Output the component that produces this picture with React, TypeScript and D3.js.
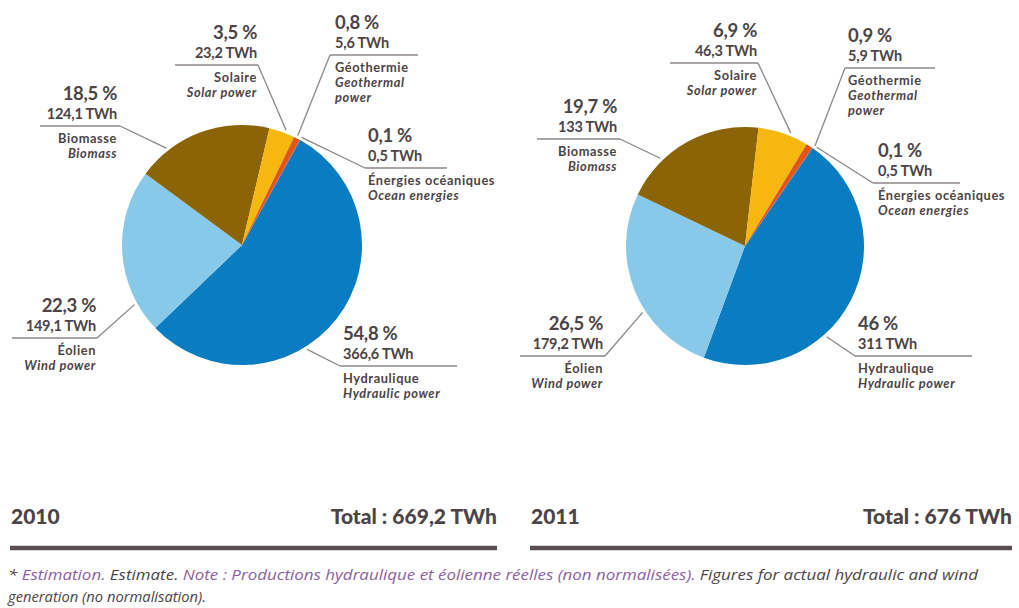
import React from "react";
import * as d3 from "d3";

// ---- Data ----
const categoriesFr = ["Hydraulique", "Éolien", "Biomasse", "Solaire", "Géothermie", "Énergies océaniques"];
const categoriesEn = [["Hydraulic power"], ["Wind power"], ["Biomass"], ["Solar power"], ["Geothermal", "power"], ["Ocean energies"]];
const colors = ["#0a7dc2", "#88c9ea", "#8a6406", "#f6b80e", "#e0561a", "#c8401a"];

const values2010 = [366.6, 149.1, 124.1, 23.2, 5.6, 0.5];
const pctLabels2010 = ["54,8 %", "22,3 %", "18,5 %", "3,5 %", "0,8 %", "0,1 %"];
const twhLabels2010 = ["366,6 TWh", "149,1 TWh", "124,1 TWh", "23,2 TWh", "5,6 TWh", "0,5 TWh"];

const values2011 = [311, 179.2, 133, 46.3, 5.9, 0.5];
const pctLabels2011 = ["46 %", "26,5 %", "19,7 %", "6,9 %", "0,9 %", "0,1 %"];
const twhLabels2011 = ["311 TWh", "179,2 TWh", "133 TWh", "46,3 TWh", "5,9 TWh", "0,5 TWh"];

const years = ["2010", "2011"];
const totals = ["Total : 669,2 TWh", "Total : 676 TWh"];

// ---- Layout (positions only) ----
type LabelPos = { anchor: "start" | "end"; x: number; y: number; x0: number; x1: number; ang: number };
const layout2010 = {
  cx: 242, cy: 245, r: 120, start: 29,
  labels: [
    { anchor: "start", x: 343, y: 340, x0: 340, x1: 457, ang: 148 },
    { anchor: "end", x: 96, y: 312, x0: 12, x1: 97, ang: 241 },
    { anchor: "end", x: 117, y: 100, x0: 40, x1: 120, ang: 322 },
    { anchor: "end", x: 257, y: 39, x0: 175, x1: 258, ang: 21 },
    { anchor: "start", x: 335, y: 29, x0: 330, x1: 418, ang: 27 },
    { anchor: "start", x: 368, y: 142, x0: 365, x1: 447, ang: 29 },
  ] as LabelPos[],
};
const layout2011 = {
  cx: 745, cy: 246, r: 119, start: 34.6,
  labels: [
    { anchor: "start", x: 858, y: 330, x0: 855, x1: 972, ang: 138 },
    { anchor: "end", x: 603, y: 330, x0: 520, x1: 605, ang: 237 },
    { anchor: "end", x: 617, y: 113, x0: 537, x1: 620, ang: 316 },
    { anchor: "end", x: 757, y: 37, x0: 670, x1: 758, ang: 22 },
    { anchor: "start", x: 848, y: 42, x0: 845, x1: 935, ang: 35 },
    { anchor: "start", x: 878, y: 157, x0: 873, x1: 960, ang: 36 },
  ] as LabelPos[],
};

const TEXT = "#4d4446";
const LINE = "#8e8686";
const PURPLE = "#8d5fa0";
const FONT = "Lato, 'Open Sans', sans-serif";
const NOTE_FONT = "'Open Sans', Lato, sans-serif";

function Pie({ values, pcts, twhs, lay }: { values: number[]; pcts: string[]; twhs: string[]; lay: typeof layout2010 }) {
  const a0 = (lay.start * Math.PI) / 180;
  const pie = d3.pie<number>().sort(null).startAngle(a0).endAngle(a0 + 2 * Math.PI);
  const arcs = pie(values);
  const arc = d3.arc<d3.PieArcDatum<number>>().innerRadius(0).outerRadius(lay.r);
  return (
    <g>
      <g transform={`translate(${lay.cx},${lay.cy})`}>
        {arcs.map((a, i) => (
          <path key={i} d={arc(a) || ""} fill={colors[i]} />
        ))}
      </g>
      {lay.labels.map((l, i) => {
        const ang = (l.ang * Math.PI) / 180;
        const ex = lay.cx + Math.sin(ang) * (lay.r + 3);
        const ey = lay.cy - Math.cos(ang) * (lay.r + 3);
        const lineY = l.y + 26;
        const sx = l.anchor === "end" ? l.x1 : l.x0;
        const names = [categoriesFr[i], ...categoriesEn[i]];
        return (
          <g key={i} fill={TEXT} fontFamily={FONT} textAnchor={l.anchor}>
            <line x1={l.x0} x2={l.x1} y1={lineY} y2={lineY} stroke={LINE} strokeWidth={1.3} />
            <line x1={sx} y1={lineY} x2={ex} y2={ey} stroke={LINE} strokeWidth={1.3} />
            <text x={l.x} y={l.y} fontSize={18.5} fontWeight={700} letterSpacing={-0.3}>{pcts[i]}</text>
            <text x={l.x} y={l.y + 18.5} fontSize={14.5} fontWeight={700} letterSpacing={-0.2}>{twhs[i]}</text>
            {names.map((n, j) => (
              <text key={j} x={l.x} y={l.y + 43 + j * 15} fontSize={12.8} fontWeight={700} letterSpacing={0.6}
                fontStyle={j === 0 ? "normal" : "italic"}>{n}</text>
            ))}
          </g>
        );
      })}
    </g>
  );
}

export default function App() {
  const xs = [[10, 497], [530, 1012]];
  return (
    <svg width={1019} height={608} style={{ position: "absolute", left: 0, top: 0, background: "#fff" }}>
      <rect width={1019} height={608} fill="#fff" />
      <Pie values={values2010} pcts={pctLabels2010} twhs={twhLabels2010} lay={layout2010} />
      <Pie values={values2011} pcts={pctLabels2011} twhs={twhLabels2011} lay={layout2011} />
      {years.map((y, i) => (
        <g key={y} fontFamily={FONT} fill={TEXT} fontWeight={900}>
          <text x={xs[i][0] + 1} y={524} fontSize={21}>{y}</text>
          <text x={xs[i][1]} y={524} fontSize={21} textAnchor="end">{totals[i]}</text>
          <line x1={xs[i][0]} x2={xs[i][1]} y1={548} y2={548} stroke="#5a4f50" strokeWidth={4.5} />
        </g>
      ))}
      <text x={8} y={580} fontFamily={NOTE_FONT} fontSize={14.5} fontStyle="italic" fill={TEXT}
        textLength={970} lengthAdjust="spacingAndGlyphs">
        <tspan>* </tspan>
        <tspan fill={PURPLE}>Estimation.</tspan>
        <tspan> Estimate. </tspan>
        <tspan fill={PURPLE}>Note : Productions hydraulique et éolienne réelles (non normalisées).</tspan>
        <tspan> Figures for actual hydraulic and wind</tspan>
      </text>
      <text x={8} y={602} fontFamily={NOTE_FONT} fontSize={14.5} fontStyle="italic" fill={TEXT}
        textLength={198} lengthAdjust="spacingAndGlyphs">
        generation (no normalisation).
      </text>
    </svg>
  );
}
